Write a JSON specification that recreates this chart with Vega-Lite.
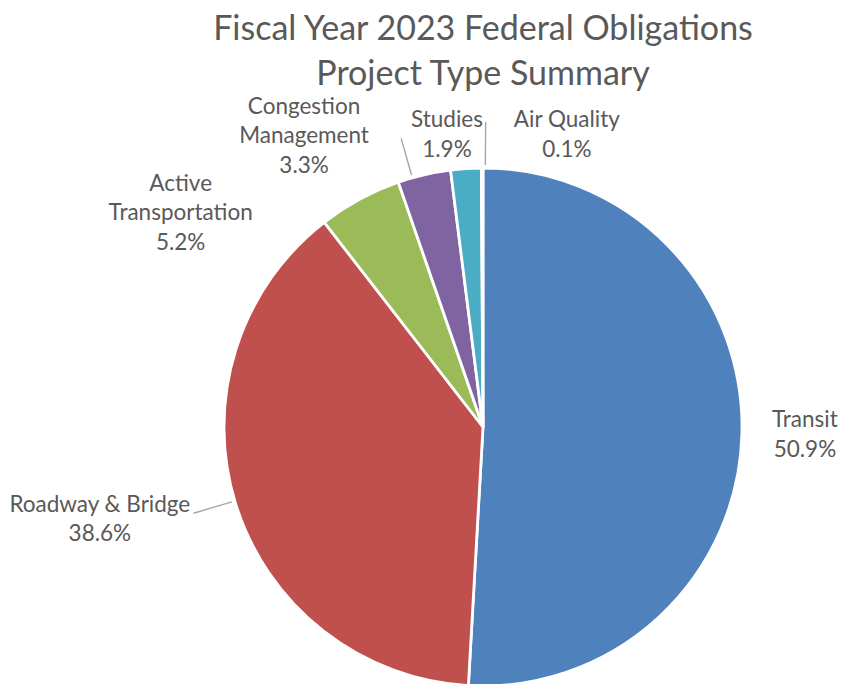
{
  "$schema": "https://vega.github.io/schema/vega-lite/v6.json",
  "autosize": "none",
  "padding": {"left": 124, "top": 168, "right": 0, "bottom": 0},
  "width": 718,
  "height": 518,
  "background": "white",
  "title": {
    "text": ["Fiscal Year 2023 Federal Obligations", "Project Type Summary"],
    "font": "Lato",
    "fontSize": 34,
    "fontWeight": "normal",
    "color": "#595959",
    "lineHeight": 45,
    "anchor": "middle",
    "frame": "group",
    "offset": 4
  },
  "config": {"view": {"stroke": null}},
  "data": {
    "values": [
      {"type": "Transit", "share": 50.9, "label": "Transit\n50.9%"},
      {"type": "Roadway & Bridge", "share": 38.6, "label": "Roadway & Bridge\n38.6%"},
      {"type": "Active Transportation", "share": 5.2, "label": "Active\nTransportation\n5.2%"},
      {"type": "Congestion Management", "share": 3.3, "label": "Congestion\nManagement\n3.3%"},
      {"type": "Studies", "share": 1.9, "label": "Studies\n1.9%"},
      {"type": "Air Quality", "share": 0.1, "label": "Air Quality\n0.1%"}
    ]
  },
  "encoding": {
    "theta": {"field": "share", "type": "quantitative", "stack": true},
    "order": {"field": "share", "type": "quantitative", "sort": "descending"}
  },
  "layer": [
    {
      "mark": {"type": "arc", "radius": 259, "stroke": "white", "strokeWidth": 2.8},
      "encoding": {
        "color": {
          "field": "type",
          "type": "nominal",
          "legend": null,
          "scale": {
            "domain": ["Transit", "Roadway & Bridge", "Active Transportation", "Congestion Management", "Studies", "Air Quality"],
            "range": ["#4F81BD", "#C0504D", "#9BBB59", "#8064A2", "#4BACC6", "#F79646"]
          }
        }
      }
    },
    {
      "mark": {
        "type": "arc",
        "filled": false,
        "stroke": "#A6A6A6",
        "strokeWidth": 1.4,
        "padAngle": 3,
        "radius2": 262,
        "radius": {"expr": "datum.type === 'Roadway & Bridge' ? 302 : datum.type === 'Congestion Management' ? 300 : datum.type === 'Air Quality' ? 305 : 262"},
        "thetaOffset": {"expr": "datum.type === 'Roadway & Bridge' ? 0.012 : datum.type === 'Congestion Management' ? -0.047 : datum.type === 'Air Quality' ? 0.012 : 0"},
        "strokeOpacity": {"expr": "datum.type === 'Roadway & Bridge' || datum.type === 'Congestion Management' || datum.type === 'Air Quality' ? 1 : 0"}
      }
    },
    {
      "mark": {
        "type": "text",
        "font": "Lato",
        "fontSize": 22.5,
        "color": "#595959",
        "lineBreak": "\n",
        "lineHeight": 29.5,
        "align": "center",
        "baseline": "middle",
        "radius": {"expr": "datum.type === 'Transit' ? 322 : datum.type === 'Roadway & Bridge' ? 391 : datum.type === 'Active Transportation' ? 388 : datum.type === 'Congestion Management' ? 367 : datum.type === 'Studies' ? 309 : 318"},
        "thetaOffset": {"expr": "datum.type === 'Transit' ? -0.05 : datum.type === 'Roadway & Bridge' ? 0.101 : datum.type === 'Active Transportation' ? -0.397 : datum.type === 'Congestion Management' ? -0.28 : datum.type === 'Studies' ? -0.051 : 0.27"}
      },
      "encoding": {
        "text": {"field": "label", "type": "nominal"}
      }
    }
  ]
}
